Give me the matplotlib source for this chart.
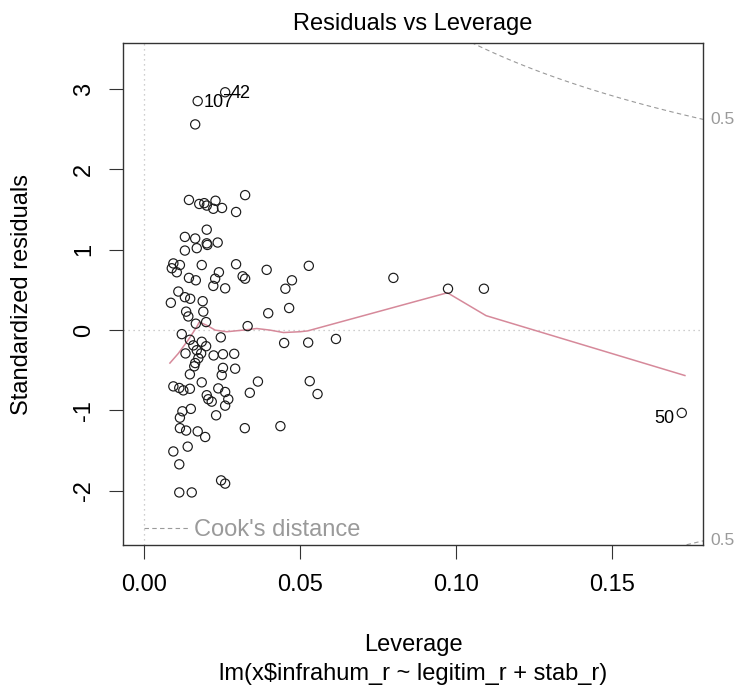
import numpy as np
import matplotlib
matplotlib.use("Agg")
import matplotlib.pyplot as plt
from matplotlib.lines import Line2D

plt.rcParams['font.family'] = ['Liberation Sans', 'DejaVu Sans']
plt.rcParams['axes.unicode_minus'] = False

# leverage (hat values) and standardized residuals
leverage = [
    0.0171, 0.0259, 0.0163,
    0.0143, 0.0176, 0.0192, 0.0200, 0.0228, 0.0221, 0.0249, 0.0294, 0.0323,
    0.0200, 0.0130, 0.0163, 0.0200, 0.0202, 0.0235, 0.0130, 0.0168,
    0.0093, 0.0114, 0.0088, 0.0104, 0.0143, 0.0165, 0.0184, 0.0221, 0.0227,
    0.0239, 0.0294, 0.0315, 0.0323, 0.0392, 0.0259,
    0.0109, 0.0130, 0.0147, 0.0085, 0.0187, 0.0134, 0.0141, 0.0189, 0.0165,
    0.0198, 0.0397, 0.0331,
    0.0120, 0.0146, 0.0184, 0.0157, 0.0198, 0.0132, 0.0168, 0.0182, 0.0173,
    0.0163, 0.0160, 0.0222, 0.0252, 0.0288, 0.0245, 0.0252, 0.0291, 0.0248,
    0.0146, 0.0184,
    0.0093, 0.0112, 0.0125, 0.0146, 0.0237, 0.0259, 0.0200, 0.0205, 0.0216,
    0.0269, 0.0259, 0.0230, 0.0122, 0.0149, 0.0114, 0.0114, 0.0134, 0.0171,
    0.0195, 0.0139, 0.0093, 0.0112, 0.0246, 0.0259, 0.0112, 0.0152,
    0.0364, 0.0338, 0.0322, 0.0436, 0.0448, 0.0452, 0.0473, 0.0464, 0.0527,
    0.0525, 0.0530, 0.0555, 0.0614, 0.0798, 0.0973, 0.1088, 0.1722,
]
std_resid = [
    2.85, 2.96, 2.56,
    1.62, 1.57, 1.58, 1.55, 1.61, 1.51, 1.52, 1.47, 1.68,
    1.25, 1.16, 1.14, 1.08, 1.06, 1.09, 0.99, 1.02,
    0.83, 0.81, 0.77, 0.72, 0.65, 0.62, 0.81, 0.55, 0.64,
    0.72, 0.82, 0.67, 0.64, 0.75, 0.52,
    0.48, 0.41, 0.39, 0.34, 0.36, 0.23, 0.17, 0.23, 0.08,
    0.10, 0.21, 0.05,
    -0.05, -0.12, -0.145, -0.19, -0.20, -0.29, -0.25, -0.29, -0.35,
    -0.41, -0.45, -0.315, -0.30, -0.295, -0.09, -0.47, -0.48, -0.56,
    -0.55, -0.65,
    -0.70, -0.72, -0.75, -0.73, -0.725, -0.77, -0.81, -0.86, -0.89,
    -0.86, -0.94, -1.06, -1.01, -0.98, -1.09, -1.22, -1.25, -1.26,
    -1.33, -1.45, -1.51, -1.67, -1.87, -1.91, -2.02, -2.02,
    -0.64, -0.78, -1.22, -1.195, -0.16, 0.515, 0.62, 0.275, 0.80,
    -0.155, -0.635, -0.795, -0.11, 0.65, 0.515, 0.515, -1.03,
]

# labelled observations (index into the arrays above, label text)
id_index = [0, 1, len(leverage) - 1]
id_labels = ["107", "42", "50"]

# smoother through the points
smooth_x = [0.0082, 0.0109, 0.0141, 0.0168, 0.0176, 0.0200, 0.0227, 0.0264,
            0.0317, 0.0360, 0.0403, 0.0446, 0.0499, 0.0523, 0.0971, 0.1095,
            0.1732]
smooth_y = [-0.41, -0.29, -0.12, 0.04, 0.10, 0.06, 0.00, -0.02,
            0.00, 0.02, 0.00, -0.03, -0.02, -0.01, 0.465, 0.18,
            -0.565]

n_coef = 3
cook_level = 0.5

xlim = (-0.00683, 0.1790)
ylim = (-2.674, 3.573)

fig = plt.figure(figsize=(7.38, 6.93), dpi=100)
ax = fig.add_axes([123 / 738, 148 / 693, 580 / 738, 502 / 693])

ax.axhline(0, ls=(0, (1, 3)), color='#BEBEBE', lw=0.9, zorder=1)
ax.axvline(0, ls=(0, (1, 3)), color='#BEBEBE', lw=0.9, zorder=1)

ax.scatter(leverage, std_resid, s=44, facecolors='none',
           edgecolors='#1a1a1a', linewidths=0.85, zorder=3)
ax.plot(smooth_x, smooth_y, color='#D6899A', lw=1.1, zorder=2)

# Cook's distance contours
hh = np.linspace(min(leverage) / 5, xlim[1], 101)
cl = np.sqrt(cook_level * n_coef * (1 - hh) / hh)
ax.plot(hh, cl, ls=(0, (4, 3)), color='#9a9a9a', lw=0.8)
ax.plot(hh, -cl, ls=(0, (4, 3)), color='#9a9a9a', lw=0.8)

aty = np.sqrt(cook_level * n_coef * (1 - xlim[1]) / xlim[1])
for yy in (aty, -aty):
    ax.text(1.012, yy, str(cook_level), transform=ax.get_yaxis_transform(),
            ha='left', va='center', fontsize=12.5, color='#9a9a9a',
            clip_on=False)

for i, lab in zip(id_index, id_labels):
    x, y = leverage[i], std_resid[i]
    if x > np.mean(xlim):
        ax.annotate(lab, (x, y), xytext=(-5, -4), textcoords='offset points',
                    ha='right', va='center', fontsize=13)
    else:
        ax.annotate(lab, (x, y), xytext=(4, -1), textcoords='offset points',
                    ha='left', va='center', fontsize=13)

leg = ax.legend([Line2D([], [], ls=(0, (4, 3)), color='#9a9a9a', lw=0.8)],
                ["Cook's distance"], loc='lower left',
                bbox_to_anchor=(0.0367, 0.008), frameon=False, fontsize=17,
                handlelength=1.85, handletextpad=0.25, borderpad=0,
                borderaxespad=0, labelcolor='#9a9a9a')

ax.set_xlim(*xlim)
ax.set_ylim(*ylim)
ax.set_xticks([0.0, 0.05, 0.10, 0.15])
ax.set_xticklabels(['0.00', '0.05', '0.10', '0.15'])
ax.set_yticks([-2, -1, 0, 1, 2, 3])
ax.set_yticklabels(['-2', '-1', '0', '1', '2', '3'], rotation=90, va='center')
ax.tick_params(axis='both', length=10, width=0.8, color='#333333',
               labelsize=17)
ax.tick_params(axis='x', pad=11)
ax.tick_params(axis='y', pad=10)
for sp in ax.spines.values():
    sp.set_color('#333333')
    sp.set_linewidth(1.0)

fig.text(413 / 738, 1 - 24 / 693, "Residuals vs Leverage", ha='center',
         va='center', fontsize=17)
fig.text(413 / 738, 1 - 645 / 693, "Leverage", ha='center', va='center',
         fontsize=17)
fig.text(413 / 738, 1 - 674 / 693, "lm(x$infrahum_r ~ legitim_r + stab_r)",
         ha='center', va='center', fontsize=17)
fig.text(22.5 / 738, 1 - 294 / 693, "Standardized residuals", ha='center',
         va='center', rotation=90, fontsize=17)

fig.savefig("out.png", dpi=100)
